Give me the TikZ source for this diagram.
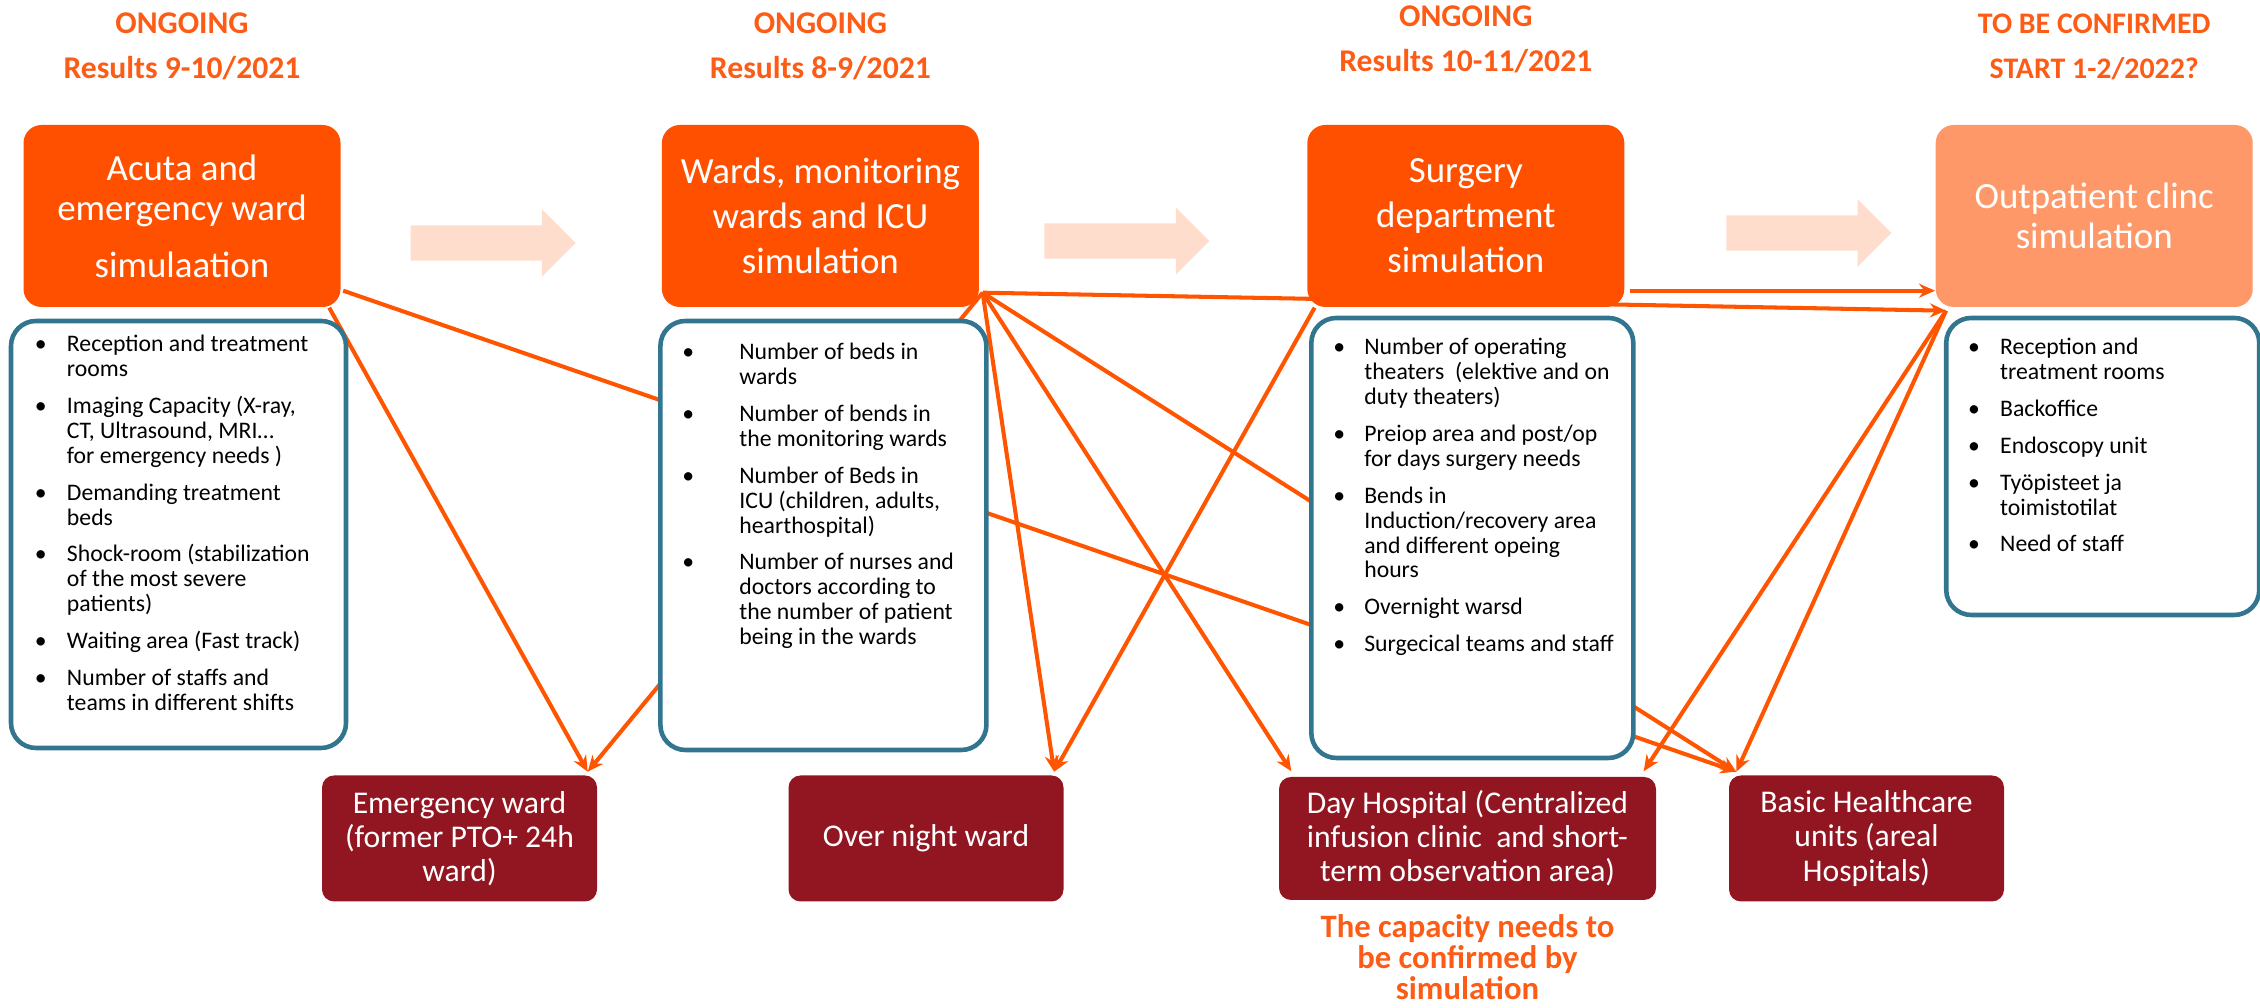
\documentclass[tikz,border=0pt]{standalone}
\usepackage{fontspec}
\setmainfont{Carlito}
\usetikzlibrary{arrows.meta,positioning,calc,shapes.arrows}

\definecolor{simorange}{RGB}{255,80,0}
\definecolor{simlight}{RGB}{255,152,104}
\definecolor{fatpeach}{RGB}{255,221,204}
\definecolor{listblue}{RGB}{49,117,143}
\definecolor{unitred}{RGB}{146,22,33}
\definecolor{headorange}{RGB}{252,92,22}
\definecolor{linkorange}{RGB}{255,85,0}

\pgfdeclarelayer{bg}
\pgfsetlayers{bg,main}

\newlength{\bulx}
\newlength{\txtx}
\newcommand{\litem}[1]{\par\noindent\hangindent=\txtx\hangafter=1\makebox[\txtx][l]{\hspace*{\bulx}\textbullet}#1\par\vspace{3.4pt}}
\newcommand{\listbody}[6]{\parbox[t][#1][t]{#2}{\setlength{\parskip}{0pt}\setlength{\bulx}{#4}\setlength{\txtx}{#5}\fontsize{6.75pt}{7.1pt}\selectfont\vspace*{#3}#6}}

\begin{document}
\begin{tikzpicture}[simbox/.style={fill=simorange,text=white,rounded corners=0.18cm,minimum width=3.17cm,minimum height=1.82cm,inner sep=0pt,align=center,font=\fontsize{10.5pt}{12.8pt}\selectfont},
  listbox/.style={draw=listblue,line width=1.3pt,fill=white,rounded corners=0.25cm,inner sep=0pt},
  unitbox/.style={fill=unitred,text=white,rounded corners=0.12cm,minimum width=2.75cm,minimum height=1.26cm,inner sep=0pt,align=center,font=\fontsize{9pt}{9.7pt}\selectfont},
  head/.style={text=headorange,inner sep=0pt,align=center,font=\bfseries\fontsize{9pt}{12.8pt}\selectfont},
  fat/.style={single arrow,fill=fatpeach,minimum height=1.65cm,single arrow head extend=0.16cm,text height=0.34cm,text depth=0pt,inner sep=0pt},
  link/.style={draw=linkorange,line width=1.15pt,-{Stealth[length=1.6mm,width=1.4mm]}}]
      \useasboundingbox (0,0) rectangle (22.6,10.08);
      % simulation phases
      \node[simbox,font=\fontsize{10.5pt}{11.4pt}\selectfont] (acute) at (1.82,7.92) {Acuta and\\emergency ward\\[4.8pt]simulaation};
      \node[simbox,right=3.2cm of acute] (wards) {Wards, monitoring\\wards and ICU\\simulation};
      \node[simbox,right=3.27cm of wards] (surg) {Surgery\\department\\simulation};
      \node[simbox,right=3.1cm of surg,fill=simlight,font=\fontsize{10.5pt}{11.4pt}\selectfont] (outp) {Outpatient clinc\\simulation};
      \node[head,above=0.44cm of acute] (hacute) {ONGOING\\Results 9-10/2021}; \node[head,above=0.44cm of wards] (hwards) {ONGOING\\Results 8-9/2021};
      \node[head,above=0.51cm of surg] (hsurg) {ONGOING\\Results 10-11/2021}; \node[head,above=0.44cm of outp,font=\bfseries\fontsize{8.5pt}{12.8pt}\selectfont] (houtp) {TO BE CONFIRMED\\START 1-2/2022?};
      \node[fat] (fa1) at ($(acute.east)!0.5!(wards.west)+(-0.17,-0.27)$) {}; \node[fat] (fa2) at ($(wards.east)!0.5!(surg.west)+(-0.25,-0.25)$) {}; \node[fat] (fa3) at ($(surg.east)!0.5!(outp.west)+(0.2,-0.17)$) {};
      % contents of each simulation
      \node[listbox,below=0.11cm of acute,xshift=-0.035cm] (acutel) {\listbody{4.27cm}{3.35cm}{0.14cm}{0.24cm}{0.56cm}{%
        \litem{Reception and treatment\\rooms}\litem{Imaging Capacity (X-ray,\\CT, Ultrasound, MRI…\\for emergency needs )}\litem{Demanding treatment\\beds}%
        \litem{Shock-room (stabilization\\of the most severe\\patients)}\litem{Waiting area (Fast track)}\litem{Number of staffs and\\teams in different shifts}}};
      \node[listbox,below=0.11cm of wards,xshift=0.03cm] (wardsl) {\listbody{4.29cm}{3.26cm}{0.22cm}{0.22cm}{0.79cm}{%
        \litem{Number of beds in\\wards}\litem{Number of bends in\\the monitoring wards}\litem{Number of Beds in\\ICU (children, adults,\\hearthospital)}%
        \litem{Number of nurses and\\doctors according to\\the number of patient\\being in the wards}}};
      \node[listbox,below=0.08cm of surg,xshift=0.065cm] (surgl) {\listbody{4.40cm}{3.22cm}{0.2cm}{0.22cm}{0.53cm}{%
        \litem{Number of operating\\theaters~ (elektive and on\\duty theaters)}\litem{Preiop area and post/op\\for days surgery needs}%
        \litem{Bends in\\Induction/recovery area\\and different opeing\\hours}\litem{Overnight warsd}\litem{Surgecical teams and staff}}};
      \node[listbox,below=0.08cm of outp,xshift=0.085cm] (outpl) {\listbody{2.97cm}{3.13cm}{0.2cm}{0.22cm}{0.54cm}{%
        \litem{Reception and\\treatment rooms}\litem{Backoffice}\litem{Endoscopy unit}\litem{Työpisteet ja\\toimistotilat}\litem{Need of staff}}};
      % units
      \node[unitbox] (emw) at (4.595,1.695) {Emergency ward\\(former PTO+ 24h\\ward)};
      \node[unitbox] (onw) at (9.26,1.695) {Over night ward};
      \node[unitbox,minimum width=3.77cm,minimum height=1.23cm] (dayh) at (14.675,1.695) {Day Hospital (Centralized\\infusion clinic~ and short-\\term observation area)};
      \node[unitbox] (basic) at (18.665,1.695) {Basic Healthcare\\units (areal\\Hospitals)};
      \node[head,below=0.13cm of dayh,font=\bfseries\fontsize{9.3pt}{8.9pt}\selectfont] (capnote) {The capacity needs to\\be confirmed by\\simulation};
      % links
      \coordinate (whub) at ($(wards.south east)+(0.03,0.15)$); \coordinate (ohub) at ($(outp.south west)+(0.11,-0.03)$);
      \coordinate (aout) at ($(acute.south east)+(0.02,0.17)$); \coordinate (sout) at ($(surg.south east)+(0.05,0.17)$);
      \coordinate (emtip) at ($(emw.north east)+(-0.1,0.03)$); \coordinate (ontip) at ($(onw.north east)+(-0.1,0.03)$);
      \coordinate (dhl) at ($(dayh.north west)+(0.13,0.05)$); \coordinate (dhr) at ($(dayh.north east)+(-0.13,0.05)$); \coordinate (bastip) at ($(basic.north west)+(0.08,0.03)$);
      \begin{pgfonlayer}{bg}
      \draw[link] (aout)--(bastip); \draw[link] ($(acute.south east)+(-0.12,0)$)--(emtip);
      \draw[link] (whub)--(emtip); \draw[link] (whub)--(ontip); \draw[link] (whub)--(dhl); \draw[link] (whub)--(bastip); \draw[link] (whub)--(ohub);
      \draw[link] ($(surg.south west)+(0.08,0)$)--(ontip); \draw[link] (sout)--(sout -| outp.west);
      \draw[link] (ohub)--(dhr); \draw[link] (ohub)--(bastip);
      \end{pgfonlayer}
    \end{tikzpicture}
\end{document}
